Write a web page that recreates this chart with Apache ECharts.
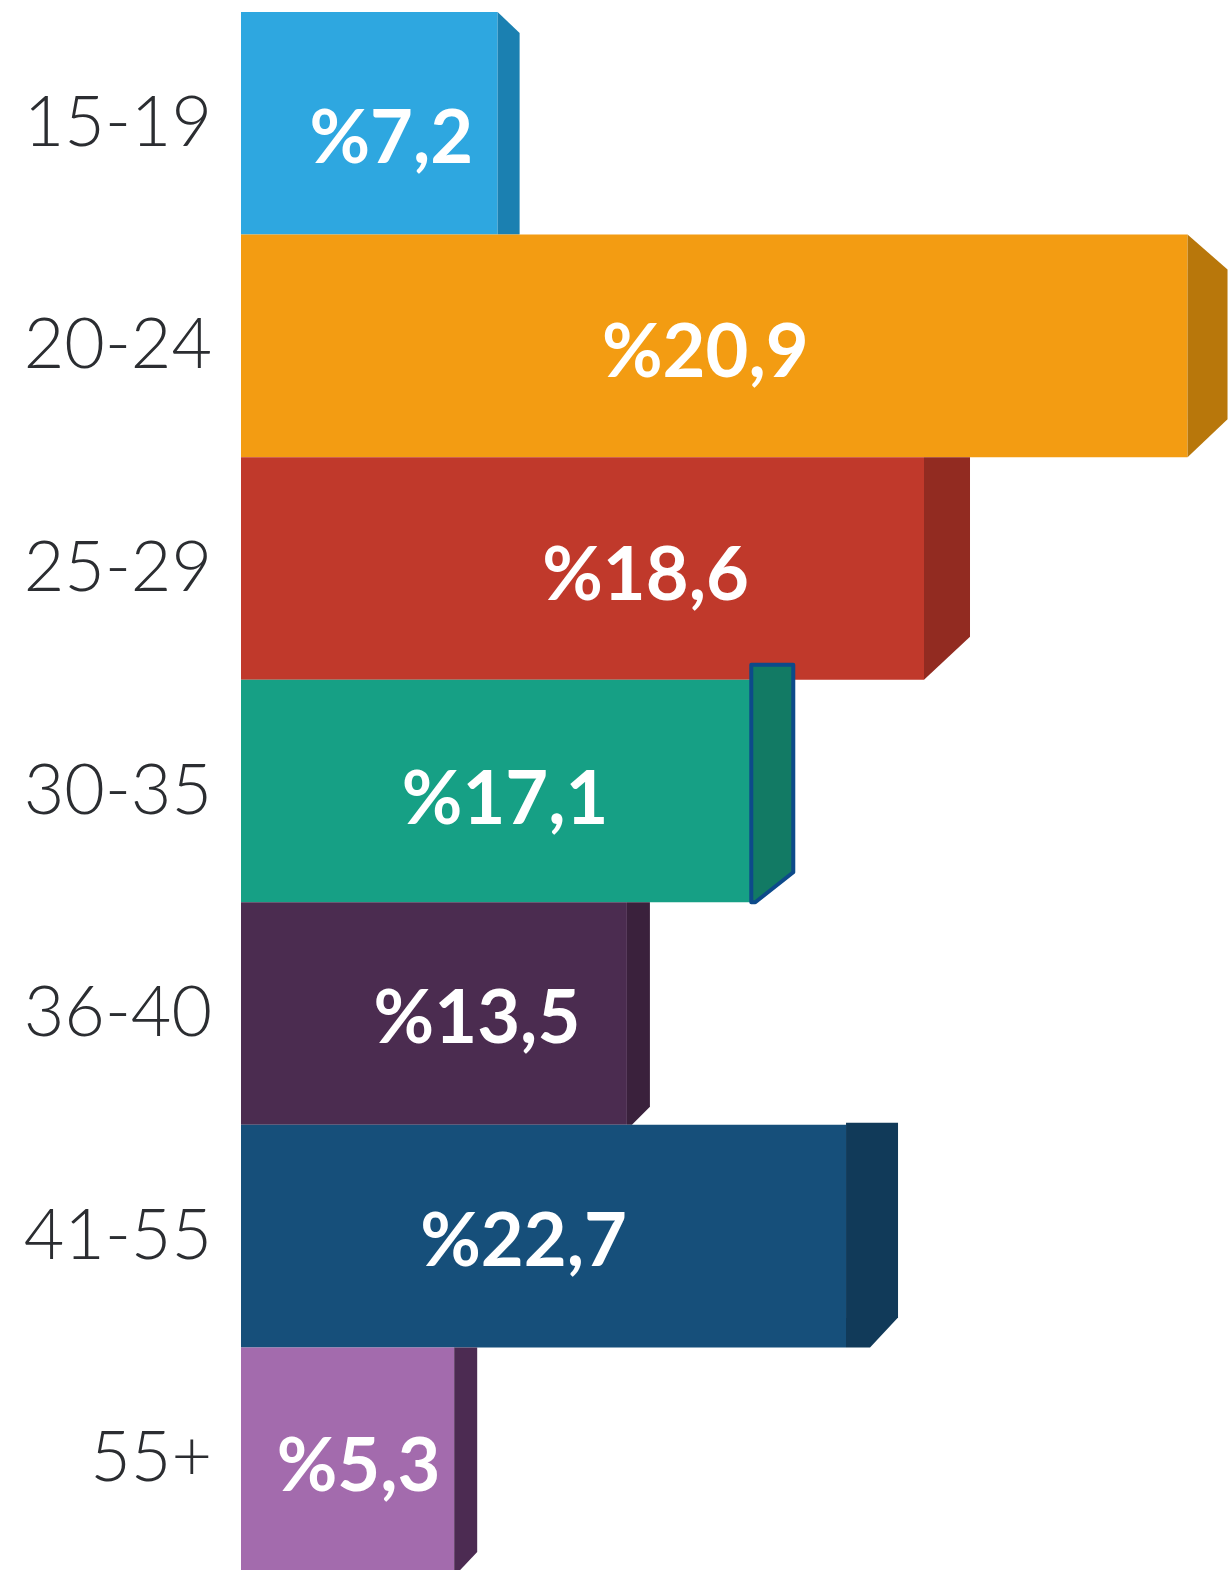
<!DOCTYPE html>
<html>
<head>
<meta charset="utf-8">
<script src="https://cdn.jsdelivr.net/npm/echarts@6/dist/echarts.min.js"></script>
<style>
html,body{margin:0;padding:0;background:#fff;}
#chart{width:1230px;height:1570px;}
</style>
</head>
<body>
<div id="chart"></div>
<script>
// Age groups (top to bottom)
const categories = ['15-19', '20-24', '25-29', '30-35', '36-40', '41-55', '55+'];
// Percentages printed on the bars
const percentages = [7.2, 20.9, 18.6, 17.1, 13.5, 22.7, 5.3];
// Drawn length of each bar's front face (axis 0-100)
const barLengths = [26.0, 95.9, 69.2, 51.7, 39.1, 61.3, 21.6];

// Styling (colours and the 3D side faces)
const frontColors = ['#2ea7e0', '#f39c12', '#c0392b', '#16a085', '#4b2c50', '#164f7a', '#a36bad'];
const sideColors  = ['#1b80b1', '#b8770b', '#922b21', '#127a64', '#3a213c', '#113a59', '#4c2b52'];
const sideStyle = [
  {d: 22, tb: 21, bb: 0,  bx: 0,  ext: 0},
  {d: 40, tb: 35, bb: 38, bx: 0,  ext: 0},
  {d: 46, tb: 0,  bb: 43, bx: 0,  ext: 0},
  {d: 42, tb: 0,  bb: 30, bx: 4,  ext: 15, stroke: '#0d4a8a'},
  {d: 23, tb: 0,  bb: 18, bx: 5,  ext: 0},
  {d: 52, tb: 0,  bb: 30, bx: 24, ext: 2},
  {d: 23, tb: 0,  bb: 18, bx: 6,  ext: 0}
];
const labelOffsets = [[22, 16], [-9, 7], [63, 8], [9, 9], [43, 6], [-20, 6], [11, 8]];

const data = barLengths.map((v, i) => [v, i, percentages[i]]);

const chart = echarts.init(document.getElementById('chart'));
chart.setOption({
  animation: false,
  grid: {left: 241, right: 2, top: 12, bottom: 0, containLabel: false},
  xAxis: {type: 'value', min: 0, max: 100, show: false},
  yAxis: {
    type: 'category', data: categories, inverse: true,
    axisLine: {show: false}, axisTick: {show: false}, splitLine: {show: false},
    axisLabel: {
      margin: 29, fontSize: 70, fontFamily: 'Lato', fontWeight: 300, color: '#2b2d31'
    }
  },
  series: [{
    type: 'custom',
    encode: {x: 0, y: 1},
    data: data,
    renderItem: function (params, api) {
      const i = params.dataIndex;
      const p0 = api.coord([0, api.value(1)]);
      const p1 = api.coord([api.value(0), api.value(1)]);
      const h = api.size([0, 1])[1];
      const top = p0[1] - h / 2, bot = p0[1] + h / 2;
      const x0 = p0[0], x1 = p1[0];
      const s = sideStyle[i];
      const pts = [
        [x1, top - s.ext],
        [x1 + s.d, top - s.ext + s.tb],
        [x1 + s.d, bot - s.bb],
        [x1 + s.bx, bot],
        [x1, bot]
      ];
      const off = labelOffsets[i];
      const children = [
        {type: 'rect', shape: {x: x0, y: top, width: x1 - x0, height: h},
         style: {fill: frontColors[i]}},
        {type: 'polygon', shape: {points: pts},
         style: s.stroke ? {fill: sideColors[i], stroke: s.stroke, lineWidth: 4, lineJoin: 'round'} : {fill: sideColors[i]}},
        {type: 'text', x: (x0 + x1) / 2 + off[0], y: p0[1] + off[1],
         style: {
           text: '%' + api.value(2).toFixed(1).replace('.', ','),
           fill: '#ffffff', fontSize: 74, fontWeight: 'bold', fontFamily: 'Lato',
           align: 'center', verticalAlign: 'middle'
         }}
      ];
      return {type: 'group', children: children};
    }
  }]
});
</script>
</body>
</html>
